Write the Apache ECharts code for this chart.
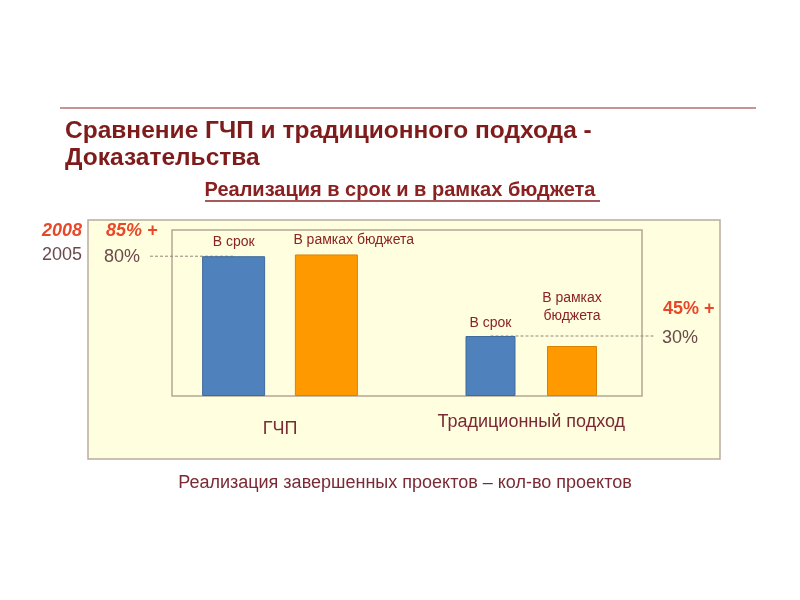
<!DOCTYPE html>
<html><head><meta charset="utf-8">
<script src="https://cdn.jsdelivr.net/npm/echarts@6/dist/echarts.min.js"></script>
<style>html,body{margin:0;padding:0;background:#fff}#c{width:800px;height:600px}</style>
</head><body><div id="c"></div>
<script>
// ---- data ----
var barNames = ['В срок', 'В рамках бюджета'];
var groupNames = ['ГЧП', 'Традиционный подход'];
var pppValues = [80, 81];          // ГЧП: в срок, в рамках бюджета (%)
var tradValues = [30, 25];         // Традиционный подход (%)
var leftYearLabels = ['2008', '2005'];
var leftPctLabels = ['85% +', '80%'];
var rightPctLabels = ['45% +', '30%'];
var titleText = 'Сравнение ГЧП и традиционного подхода -\nДоказательства';
var subtitleText = 'Реализация в срок и в рамках бюджета';
var axisText = 'Реализация завершенных проектов – кол-во проектов';

var FONT = '"Liberation Sans", Arial, sans-serif';
var barColors = ['#4F81BD', '#FF9900'];
var barBorders = ['#3F6A9C', '#D98200'];
var dark = '#8B2323';
var grey = '#6A4A4A';
var red = '#E8482A';

function buildData(vals, labelCfg) {
  return vals.map(function (v, i) {
    return {
      value: v,
      itemStyle: { color: barColors[i], borderColor: barBorders[i], borderWidth: 1 },
      label: labelCfg[i]
    };
  });
}
var lblBase = { show: true, position: 'top', formatter: '{b}', color: dark, fontSize: 14, fontFamily: FONT };
function L(extra) { return Object.assign({}, lblBase, extra); }

var chart = echarts.init(document.getElementById('c'), null, { renderer: 'canvas' });
var option = {
  backgroundColor: '#ffffff',
  animation: false,
  title: [{
    text: titleText, left: 65, top: 118, padding: 0,
    textStyle: { color: '#7E1C1C', fontSize: 24.5, fontWeight: 'bold', fontFamily: FONT, lineHeight: 27 }
  }, {
    text: subtitleText, left: 'center', top: 180, padding: 0,
    textStyle: { color: '#8B2020', fontSize: 20, fontWeight: 'bold', fontFamily: FONT }
  }],
  grid: [
    { left: 187.25, width: 185.5, top: 230, height: 166 },
    { left: 449.75, width: 163, top: 230, height: 166 }
  ],
  xAxis: [0, 1].map(function (g) {
    return {
      type: 'category', gridIndex: g, data: barNames,
      name: groupNames[g], nameLocation: 'middle', nameGap: g === 0 ? 24 : 17,
      nameTextStyle: { color: '#7A2A35', fontSize: 18, fontFamily: FONT },
      axisLine: { show: false }, axisTick: { show: false }, axisLabel: { show: false }
    };
  }),
  yAxis: [
    { type: 'value', gridIndex: 0, min: 0, max: 95, show: false },
    { type: 'value', gridIndex: 1, min: 0, max: 83, show: false }
  ],
  series: [{
    type: 'bar', xAxisIndex: 0, yAxisIndex: 0, barWidth: 63,
    data: buildData(pppValues, [L({ distance: 7 }), L({ distance: 7, align: 'left', offset: [-33, 0] })])
  }, {
    type: 'bar', xAxisIndex: 1, yAxisIndex: 1, barWidth: 50,
    data: buildData(tradValues, [L({ distance: 6 }), L({ distance: 21, formatter: 'В рамках\nбюджета', lineHeight: 18 })])
  }],
  graphic: [
    { type: 'rect', id: 'outer', shape: { x: 88, y: 220, width: 632, height: 239 }, style: { fill: '#FFFFE0', stroke: '#BBAC9F', lineWidth: 1.5 }, z: -10 },
    { type: 'rect', id: 'inner', shape: { x: 172, y: 230, width: 470, height: 166 }, style: { fill: 'none', stroke: '#B5A697', lineWidth: 1.5 }, z: -5 },
    { type: 'line', id: 'rule', shape: { x1: 60, y1: 108, x2: 756, y2: 108 }, style: { stroke: '#8B2A2A', lineWidth: 1.2 } },
    { type: 'line', id: 'ul', shape: { x1: 205, y1: 201, x2: 600, y2: 201 }, style: { stroke: '#8B2020', lineWidth: 1.4 } },
    { type: 'text', x: 82, y: 231, style: { text: leftYearLabels[0], fill: red, font: 'italic bold 18px ' + FONT, align: 'right', verticalAlign: 'middle' } },
    { type: 'text', x: 106, y: 231, style: { text: leftPctLabels[0], fill: red, font: 'italic bold 18px ' + FONT, align: 'left', verticalAlign: 'middle' } },
    { type: 'text', x: 82, y: 255, style: { text: leftYearLabels[1], fill: grey, font: '18px ' + FONT, align: 'right', verticalAlign: 'middle' } },
    { type: 'text', x: 104, y: 257, style: { text: leftPctLabels[1], fill: grey, font: '18px ' + FONT, align: 'left', verticalAlign: 'middle' } },
    { type: 'text', x: 663, y: 309, style: { text: rightPctLabels[0], fill: red, font: 'bold 18px ' + FONT, align: 'left', verticalAlign: 'middle' } },
    { type: 'text', x: 662, y: 338, style: { text: rightPctLabels[1], fill: grey, font: '18px ' + FONT, align: 'left', verticalAlign: 'middle' } },
    { type: 'text', x: 405, y: 483, style: { text: axisText, fill: '#7A2A35', font: '18px ' + FONT, align: 'center', verticalAlign: 'middle' } }
  ]
};
chart.setOption(option);

// dashed reference lines at the bar tops, positioned through the library's scales
var pA = chart.convertToPixel({ gridIndex: 0 }, [0, pppValues[0]]);
var pB = chart.convertToPixel({ gridIndex: 1 }, [0, tradValues[0]]);
chart.setOption({
  graphic: [
    { type: 'line', id: 'dashA', z: -1, shape: { x1: 150, y1: pA[1], x2: pA[0], y2: pA[1] }, style: { stroke: '#958579', lineWidth: 1, lineDash: [3, 2] } },
    { type: 'line', id: 'dashB', z: -1, shape: { x1: pB[0], y1: pB[1], x2: 655, y2: pB[1] }, style: { stroke: '#958579', lineWidth: 1, lineDash: [3, 2] } }
  ]
});
</script></body></html>
